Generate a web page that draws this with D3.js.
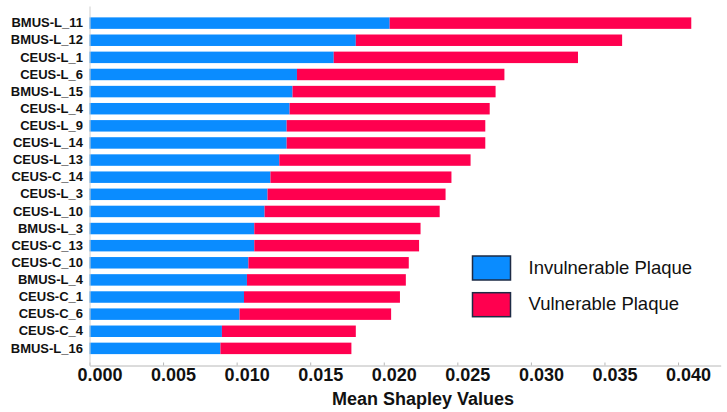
<!DOCTYPE html>
<html>
<head>
<meta charset="utf-8">
<script src="https://cdn.jsdelivr.net/npm/d3@7"></script>
<style>
    body { margin: 0; background: #fff; }
    text { font-family: "Liberation Sans", Arial, sans-serif; }
</style>
</head>
<body>
<script>
// признаки (сверху вниз)
let features = ["BMUS-L_11", "BMUS-L_12", "CEUS-L_1", "CEUS-L_6", "BMUS-L_15",
    "CEUS-L_4", "CEUS-L_9", "CEUS-L_14", "CEUS-L_13", "CEUS-C_14",
    "CEUS-L_3", "CEUS-L_10", "BMUS-L_3", "CEUS-C_13", "CEUS-C_10",
    "BMUS-L_4", "CEUS-C_1", "CEUS-C_6", "CEUS-C_4", "BMUS-L_16"]

let invulnerable = [0.0204, 0.0181, 0.0166, 0.0141, 0.0138, 0.0136, 0.0134, 0.0134, 0.0129, 0.0123,
    0.0121, 0.0119, 0.0112, 0.0112, 0.0108, 0.0107, 0.0105, 0.0102, 0.0090, 0.0089]
let vulnerable = [0.0205, 0.0181, 0.0166, 0.0141, 0.0138, 0.0136, 0.0135, 0.0135, 0.0130, 0.0123,
    0.0121, 0.0119, 0.0113, 0.0112, 0.0109, 0.0108, 0.0106, 0.0103, 0.0091, 0.0089]

let seriesNames = ["Invulnerable Plaque", "Vulnerable Plaque"]
let seriesColors = ["#0a8cff", "#ff004f"]
let xTicks = [0, 0.005, 0.01, 0.015, 0.02, 0.025, 0.03, 0.035, 0.04]

let width = 727
let height = 412
let plotLeft = 89.5
let plotRight = 720.7
let plotTop = 6
let plotBottom = 365.5

let svg = d3.select("body")
    .append("svg")
    .attr("width", width)
    .attr("height", height)

let rows = features.map((f, i) => ({
    feature: f,
    inv: invulnerable[i],
    vul: vulnerable[i]
}))

let stacked = d3.stack().keys(["inv", "vul"])(rows)

let scaleX = d3.scaleLinear()
    .domain([0, 0.0429])
    .range([plotLeft, plotRight])

let scaleY = d3.scaleBand()
    .domain(features)
    .range([plotTop, plotBottom])
    .paddingInner(0.33)
    .paddingOuter(0.665)

// столбцы
svg.selectAll("g.layer")
    .data(stacked)
    .enter()
    .append("g")
    .attr("class", "layer")
    .attr("fill", (d, i) => seriesColors[i])
    .selectAll("rect")
    .data(d => d)
    .enter()
    .append("rect")
    .attr("x", d => scaleX(d[0]))
    .attr("y", d => scaleY(d.data.feature))
    .attr("width", d => scaleX(d[1]) - scaleX(d[0]))
    .attr("height", scaleY.bandwidth())

// ось OX
let axisX = d3.axisBottom(scaleX)
    .tickValues(xTicks)
    .tickFormat(d3.format(".3f"))
    .tickSizeInner(-3)
    .tickSizeOuter(0)
    .tickPadding(3)

let gx = svg.append("g")
    .attr("transform", `translate(0, ${plotBottom})`)
    .call(axisX)
gx.select(".domain").attr("stroke", "#b8b8b8")
gx.selectAll(".tick line").attr("stroke", "#b8b8b8")
gx.selectAll(".tick text")
    .attr("dx", 10)
    .attr("fill", "#111")
    .style("font-size", "18px")
    .style("font-weight", "bold")

// ось OY
let axisY = d3.axisLeft(scaleY)
    .tickSize(0)
    .tickPadding(6.5)

let gy = svg.append("g")
    .attr("transform", `translate(${plotLeft}, 0)`)
    .call(axisY)
gy.select(".domain").attr("stroke", "#cfcfcf")
gy.selectAll(".tick text")
    .attr("fill", "#111")
    .style("font-size", "13px")
    .style("font-weight", "bold")

// подпись оси
svg.append("text")
    .attr("x", (plotLeft + plotRight) / 2 + 18)
    .attr("y", 405)
    .attr("text-anchor", "middle")
    .attr("fill", "#111")
    .style("font-size", "18px")
    .style("font-weight", "bold")
    .text("Mean Shapley Values")

// легенда
let legend = svg.selectAll("g.legend")
    .data(seriesNames)
    .enter()
    .append("g")
    .attr("class", "legend")
    .attr("transform", (d, i) => `translate(472.5, ${256 + i * 36.7})`)

legend.append("rect")
    .attr("width", 38)
    .attr("height", 24)
    .attr("fill", (d, i) => seriesColors[i])
    .attr("stroke", "#1d2b45")
    .attr("stroke-width", 1.5)

legend.append("text")
    .attr("x", 56)
    .attr("y", 17.5)
    .attr("fill", "#111")
    .style("font-size", "18.5px")
    .text(d => d)
</script>
</body>
</html>
